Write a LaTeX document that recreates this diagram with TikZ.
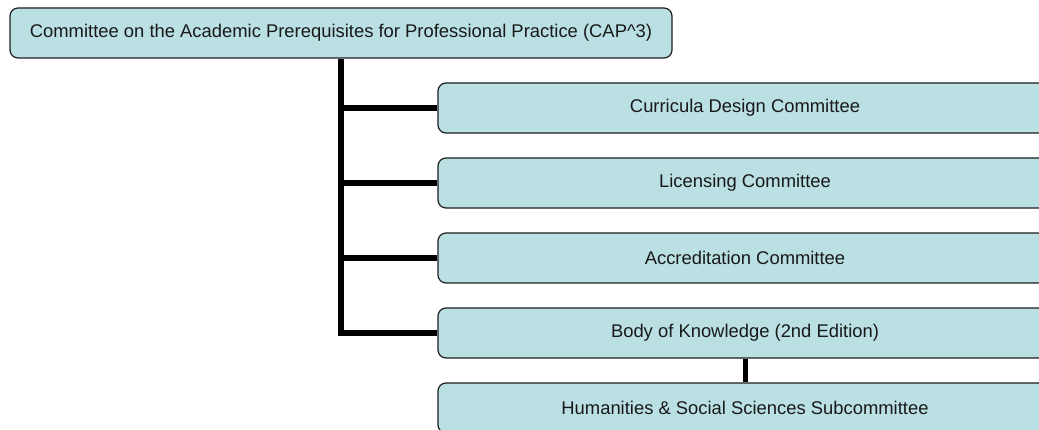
\documentclass[tikz,border=0pt]{standalone}
\usepackage{fontspec}
\setmainfont{Liberation Sans}
\definecolor{boxfill}{RGB}{186,224,228}
\definecolor{boxline}{RGB}{30,30,30}
\tikzset{
  orgbox/.style={draw=boxline, line width=1.2pt, fill=boxfill, rounded corners=8pt,
    minimum height=50pt, inner sep=0pt, font=\fontsize{18.4}{22}\selectfont, text=black!90},
  conn/.style={line width=6pt, line cap=rect, black},
  conn2/.style={line width=5pt, black}
}
\begin{document}
\begin{tikzpicture}[x=1pt,y=-1pt]
\useasboundingbox (0,0) rectangle (1039,430);
\clip (0,0) rectangle (1039,430);
\fill[white] (0,0) rectangle (1039,430);
\node[orgbox, minimum width=662pt] (top) at (341,33) {Committee on the Academic Prerequisites for Professional Practice (CAP\^{}3)};
\node[orgbox, minimum width=614pt] (c1) at (745,108) {Curricula Design Committee};
\node[orgbox, minimum width=614pt] (c2) at (745,183) {Licensing Committee};
\node[orgbox, minimum width=614pt] (c3) at (745,258) {Accreditation Committee};
\node[orgbox, minimum width=614pt] (c4) at (745,333) {Body of Knowledge (2nd Edition)};
\node[orgbox, minimum width=614pt] (c5) at (745,408) {Humanities \& Social Sciences Subcommittee};
\begin{scope}[on background layer/.try]
\end{scope}
\draw[line width=6pt, black] (top.south) -- ([yshift=3pt]top.south |- c4.west);
\draw[line width=6pt, black] ([xshift=-3pt]top.south |- c4.west) -- (c4.west);
\foreach \n in {c1,c2,c3}{
  \draw[line width=6pt, black] (top.south |- \n.west) -- (\n.west);
}
\draw[conn2] (c4.south) -- (c5.north);
\end{tikzpicture}
\end{document}
